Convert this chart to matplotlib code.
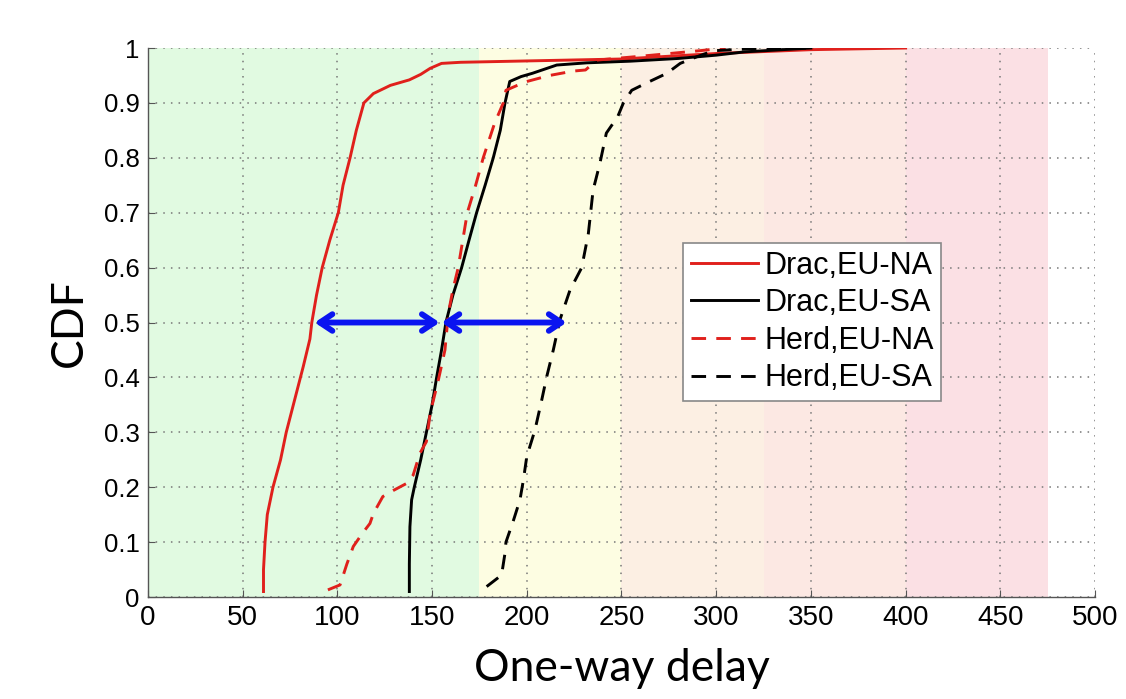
import matplotlib
matplotlib.use('Agg')
import matplotlib.pyplot as plt

# delay bands (start, end, colour)
band_edges = [0, 175, 250, 325, 400, 475]
band_colors = ['#e1fae1', '#fdfde2', '#fcefe3', '#fce8e3', '#fbe0e4']

# Drac, EU-NA
drac_na_x = [61, 61, 61.8, 63, 66, 70, 73, 77.5, 82, 85.5, 86.5, 89, 92, 96, 100.5, 103,
             106.7, 110, 114, 119, 128, 138, 144, 149, 155, 165, 250, 300, 350, 400]
drac_na_y = [0.01, 0.05, 0.1, 0.15, 0.2, 0.25, 0.3, 0.36, 0.42, 0.47, 0.5, 0.55, 0.6, 0.65, 0.7, 0.75,
             0.8, 0.85, 0.9, 0.917, 0.932, 0.942, 0.952, 0.963, 0.972, 0.974, 0.98, 0.99, 0.997, 1.0]

# Drac, EU-SA
drac_sa_x = [138, 138, 138.3, 139.2, 140.6, 144, 147, 150, 152.4, 155, 157.3, 161, 165.6, 169.5, 173.5,
             178, 182.3, 186, 188.5, 191, 197, 203, 215.8, 231.6, 254.5, 280, 300, 315, 350]
drac_sa_y = [0.01, 0.06, 0.128, 0.177, 0.2, 0.25, 0.3, 0.35, 0.4, 0.45, 0.5, 0.55, 0.6, 0.65, 0.7,
             0.75, 0.8, 0.85, 0.9, 0.939, 0.948, 0.954, 0.969, 0.973, 0.976, 0.981, 0.987, 0.993, 1.0]

# Herd, EU-NA
herd_na_x = [95, 101.4, 102, 105, 108.4, 113, 117.2, 119, 124, 129.5, 136.6, 140, 143.6, 147, 149,
             153.3, 156.8, 158.6, 161, 163.8, 168.6, 173, 177, 183, 187.6, 189, 195, 200, 212,
             224.5, 231, 237, 260, 291, 305]
herd_na_y = [0.013, 0.022, 0.028, 0.06, 0.092, 0.115, 0.134, 0.152, 0.183, 0.194, 0.207, 0.222, 0.262,
             0.283, 0.335, 0.395, 0.45, 0.517, 0.56, 0.6, 0.7, 0.75, 0.8, 0.863, 0.9, 0.923, 0.932,
             0.939, 0.95, 0.958, 0.96, 0.978, 0.985, 0.995, 1.0]

# Herd, EU-SA
herd_sa_x = [178.8, 186.7, 188.5, 189, 193, 196.4, 198.2, 200, 204.3, 207.9, 210.5, 214, 217.5,
             222.8, 229, 232.5, 235, 238.6, 242, 248, 251, 255.4, 263, 274, 281, 289.7, 298.5,
             320, 350]
herd_sa_y = [0.019, 0.04, 0.08, 0.1, 0.14, 0.177, 0.213, 0.256, 0.304, 0.359, 0.401, 0.45, 0.505,
             0.559, 0.6, 0.662, 0.741, 0.79, 0.845, 0.875, 0.9, 0.923, 0.936, 0.954, 0.972, 0.984,
             0.995, 0.999, 1.0]

# median gap arrows at CDF = 0.5
arrow_spans = [(88, 154), (155, 221)]
arrow_y = 0.5

xticks = [0, 50, 100, 150, 200, 250, 300, 350, 400, 450, 500]
yticks = [0, 0.1, 0.2, 0.3, 0.4, 0.5, 0.6, 0.7, 0.8, 0.9, 1]
ytick_labels = ['0', '0.1', '0.2', '0.3', '0.4', '0.5', '0.6', '0.7', '0.8', '0.9', '1']

red = '#e0201c'

fig = plt.figure(figsize=(11.26, 6.99), dpi=100)
ax = fig.add_axes([0.1314, 0.1459, 0.8411, 0.7854])

for i in range(len(band_colors)):
    ax.axvspan(band_edges[i], band_edges[i + 1], color=band_colors[i], zorder=0, lw=0)

ax.plot(drac_na_x, drac_na_y, color=red, lw=2.1, label='Drac,EU-NA', zorder=3)
ax.plot(drac_sa_x, drac_sa_y, color='black', lw=2.1, label='Drac,EU-SA', zorder=3)
ax.plot(herd_na_x, herd_na_y, color=red, lw=2.1, ls=(0, (5, 3.5)), label='Herd,EU-NA', zorder=3)
ax.plot(herd_sa_x, herd_sa_y, color='black', lw=2.1, ls=(0, (5, 3.5)), label='Herd,EU-SA', zorder=3)

for a, b in arrow_spans:
    ax.annotate('', xy=(b, arrow_y), xytext=(a, arrow_y),
                arrowprops=dict(arrowstyle='<->,head_length=0.9,head_width=0.6',
                                color='#0a14f0', lw=4.2, shrinkA=0, shrinkB=0),
                zorder=5)

ax.set_xlim(0, 500)
ax.set_ylim(0, 1)
ax.set_xticks(xticks)
ax.set_yticks(yticks)
ax.set_yticklabels(ytick_labels)
ax.tick_params(direction='in', length=5, color='#555555', pad=6)
for lab in ax.get_xticklabels():
    lab.set_fontfamily('Liberation Sans')
    lab.set_fontsize(20)
for lab in ax.get_yticklabels():
    lab.set_fontfamily('Liberation Sans')
    lab.set_fontsize(18.5)

ax.grid(True, ls=(0, (1, 4)), color='#777777', lw=1.1)
ax.set_axisbelow(True)
for s in ['top', 'right']:
    ax.spines[s].set_visible(False)
for s in ['left', 'bottom']:
    ax.spines[s].set_color('#555555')
    ax.spines[s].set_linewidth(1.0)

ax.set_xlabel('One-way delay', fontfamily='Lato', fontsize=32, labelpad=12)
ax.set_ylabel('CDF', fontfamily='Lato', fontsize=32, labelpad=10)

leg = ax.legend(loc='upper left', bbox_to_anchor=(0.565, 0.645), borderaxespad=0,
                prop={'family': 'Liberation Sans', 'size': 22}, fancybox=False,
                framealpha=1, edgecolor='#888888', handlelength=2.2, handletextpad=0.2,
                labelspacing=0.25, borderpad=0.25)
leg.get_frame().set_linewidth(1.2)
leg.set_zorder(6)

fig.savefig('out.png', dpi=100)
